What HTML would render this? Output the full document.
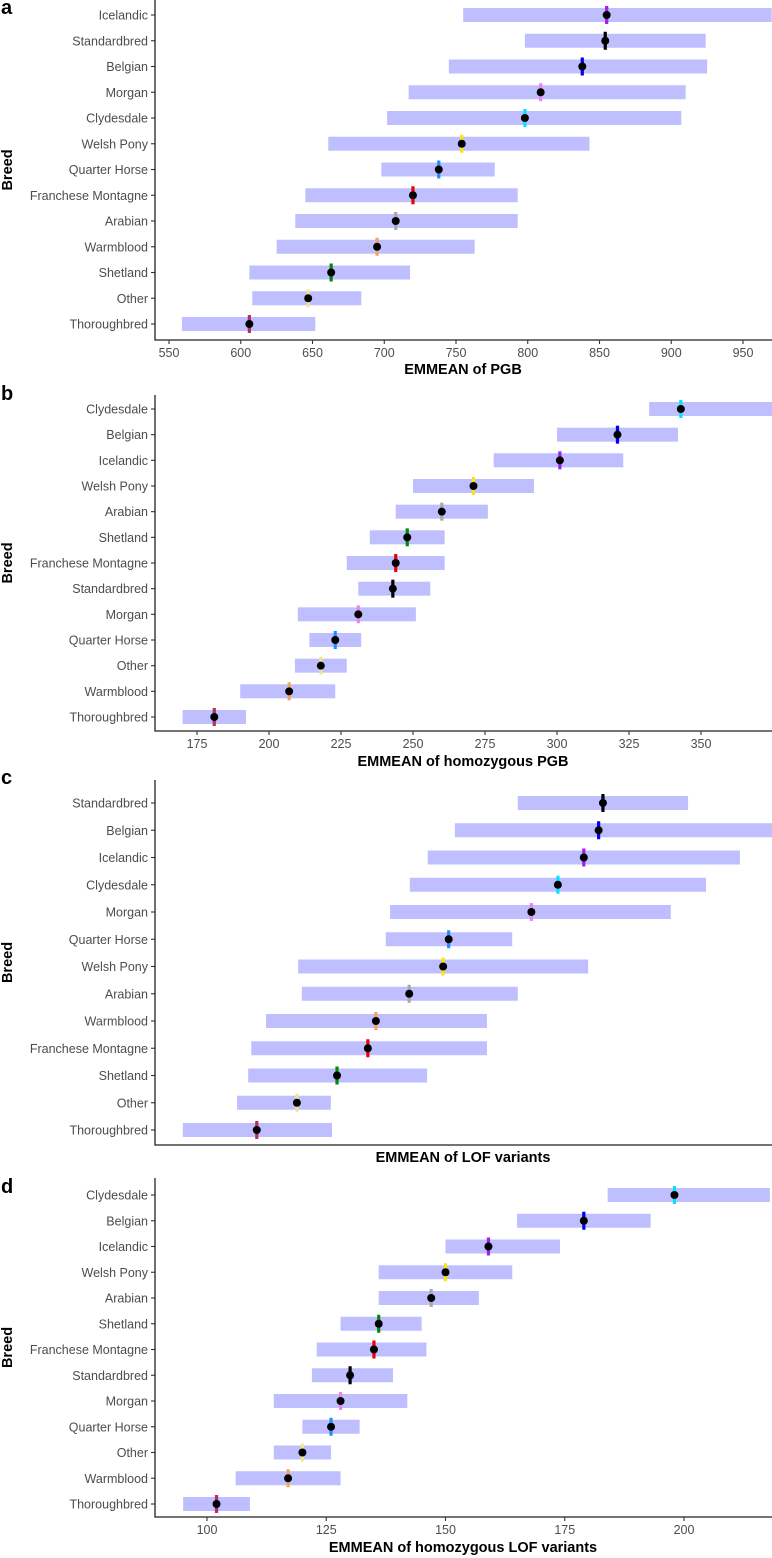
<!DOCTYPE html>
<html><head><meta charset="utf-8"><style>
body{margin:0;background:#fff;}
svg{display:block;font-family:"Liberation Sans",Arial,sans-serif;}
.tl{font-size:12.5px;fill:#4d4d4d;}
.at{font-size:14.5px;font-weight:bold;fill:#000;}
.pl{font-size:20px;font-weight:bold;fill:#000;}
</style></head><body>
<svg id="chart" width="772" height="1558" viewBox="0 0 772 1558"></svg>
<script>
const colorsByBreed = {"Icelandic":"#a020f0","Standardbred":"#000000","Belgian":"#0000ee","Morgan":"#ee82ee","Clydesdale":"#00e5ff","Welsh Pony":"#ffe600","Quarter Horse":"#1e90ff","Franchese Montagne":"#ee0000","Arabian":"#a9a9a9","Warmblood":"#f4a460","Shetland":"#008b00","Other":"#f0e68c","Thoroughbred":"#b03060"};

const catsA = ["Icelandic","Standardbred","Belgian","Morgan","Clydesdale","Welsh Pony","Quarter Horse","Franchese Montagne","Arabian","Warmblood","Shetland","Other","Thoroughbred"];
const estA = [855,854,838,809,798,754,738,720,708,695,663,647,606];
const loA  = [755,798,745,717,702,661,698,645,638,625,606,608,559];
const hiA  = [970,924,925,910,907,843,777,793,793,763,718,684,652];
const ticksA = [550,600,650,700,750,800,850,900,950];

const catsB = ["Clydesdale","Belgian","Icelandic","Welsh Pony","Arabian","Shetland","Franchese Montagne","Standardbred","Morgan","Quarter Horse","Other","Warmblood","Thoroughbred"];
const estB = [343,321,301,271,260,248,244,243,231,223,218,207,181];
const loB  = [332,300,278,250,244,235,227,231,210,214,209,190,170];
const hiB  = [375,342,323,292,276,261,261,256,251,232,227,223,192];
const ticksB = [175,200,225,250,275,300,325,350];

const catsC = ["Standardbred","Belgian","Icelandic","Clydesdale","Morgan","Quarter Horse","Welsh Pony","Arabian","Warmblood","Franchese Montagne","Shetland","Other","Thoroughbred"];
const estC = [72.6,71.9,69.5,65.3,61.0,47.6,46.7,41.2,35.8,34.5,29.5,23.0,16.5];
const loC  = [58.8,48.6,44.2,41.3,38.1,37.4,23.2,23.8,18.0,15.6,15.1,13.3,4.5];
const hiC  = [86.4,100,94.8,89.3,83.6,57.9,70.2,58.8,53.8,53.8,44.1,28.5,28.7];
const ticksC = [];

const catsD = ["Clydesdale","Belgian","Icelandic","Welsh Pony","Arabian","Shetland","Franchese Montagne","Standardbred","Morgan","Quarter Horse","Other","Warmblood","Thoroughbred"];
const estD = [198,179,159,150,147,136,135,130,128,126,120,117,102];
const loD  = [184,165,150,136,136,128,123,122,114,120,114,106,95];
const hiD  = [218,193,174,164,157,145,146,139,142,132,126,128,109];
const ticksD = [100,125,150,175,200];

const NS="http://www.w3.org/2000/svg";
const svg=document.getElementById('chart');
function mk(tag,attrs,parent,text){const e=document.createElementNS(NS,tag);for(const k in attrs)e.setAttribute(k,attrs[k]);if(text!==undefined)e.textContent=text;(parent||svg).appendChild(e);return e;}

function panel(cfg){
  const g=mk('g',{});
  
  
  const left=155,right=772;
  const xs=v=>cfg.px0+(v-cfg.v0)*cfg.k;
  const n=cfg.cats.length;
  const ys=i=>cfg.yFirst+i*(cfg.yLast-cfg.yFirst)/(n-1);
  const clip='clip'+cfg.letter;
  const cp=mk('clipPath',{id:clip},g);
  mk('rect',{x:left,y:cfg.top,width:right-left,height:cfg.axisY-cfg.top},cp);
  const marks=mk('g',{'clip-path':'url(#'+clip+')'},g);
  for(let i=0;i<n;i++){
    const y=ys(i),c=colorsByBreed[cfg.cats[i]];
    const b=mk('rect',{x:xs(cfg.lo[i]),y:y-7,width:xs(cfg.hi[i])-xs(cfg.lo[i]),height:14,fill:'#bfbfff'},marks);
    
    
    const l=mk('rect',{x:xs(cfg.est[i])-1.6,y:y-9,width:3.2,height:18,fill:c},marks);
    
    
    const p=mk('circle',{cx:xs(cfg.est[i]),cy:y,r:4,fill:'#000'},marks);
    
    
    mk('line',{x1:151,x2:155,y1:y,y2:y,stroke:'#333','stroke-width':1.1},g);
    const t=mk('text',{x:148,y:y+4.5,'text-anchor':'end',class:'tl'},g,cfg.cats[i]);
    
    
  }
  mk('line',{x1:left,x2:left,y1:cfg.top,y2:cfg.axisY+0.5,stroke:'#222','stroke-width':1.3},g);
  mk('line',{x1:left-0.5,x2:right,y1:cfg.axisY,y2:cfg.axisY,stroke:'#222','stroke-width':1.3},g);
  for(const tv of cfg.ticks){
    const x=xs(tv);
    mk('line',{x1:x,x2:x,y1:cfg.axisY,y2:cfg.axisY+4,stroke:'#333','stroke-width':1.1},g);
    const t=mk('text',{x:x,y:cfg.axisY+17,'text-anchor':'middle',class:'tl'},g,String(tv));
    
    
  }
  const at=mk('text',{x:463,y:cfg.titleY,'text-anchor':'middle',class:'at'},g,cfg.title);
  
  
  const yt=mk('text',{x:0,y:0,'text-anchor':'middle',class:'at',transform:'translate(12,'+((cfg.top+cfg.axisY)/2)+') rotate(-90)'},g,'Breed');
  
  
  const pl=mk('text',{x:1,y:cfg.letterY,class:'pl'},g,cfg.letter);
  
  
}

panel({letter:'a',cats:catsA,est:estA,lo:loA,hi:hiA,ticks:ticksA,px0:169,v0:550,k:1.435,top:0,yFirst:15,yLast:324,axisY:340,titleY:374,letterY:14,title:'EMMEAN of PGB'});
panel({letter:'b',cats:catsB,est:estB,lo:loB,hi:hiB,ticks:ticksB,px0:197,v0:175,k:2.88,top:395,yFirst:409,yLast:717,axisY:731,titleY:766,letterY:400,title:'EMMEAN of homozygous PGB'});
panel({letter:'c',cats:catsC,est:estC,lo:loC,hi:hiC,ticks:ticksC,px0:155,v0:0,k:6.17,top:780,yFirst:803,yLast:1130,axisY:1145,titleY:1162,letterY:784,title:'EMMEAN of LOF variants'});
panel({letter:'d',cats:catsD,est:estD,lo:loD,hi:hiD,ticks:ticksD,px0:207,v0:100,k:4.77,top:1178,yFirst:1195,yLast:1504,axisY:1517,titleY:1552,letterY:1193,title:'EMMEAN of homozygous LOF variants'});
</script>
</body></html>
